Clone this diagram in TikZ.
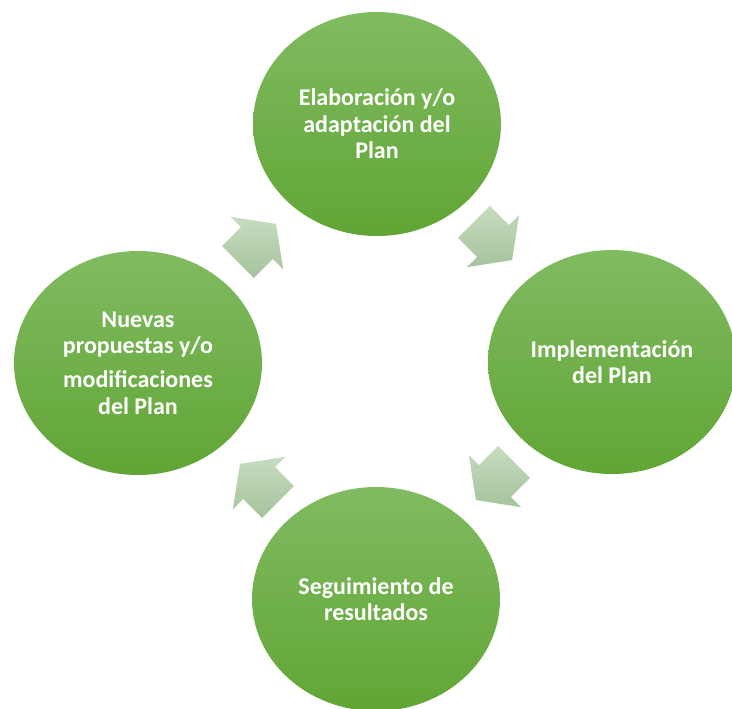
\documentclass[tikz,border=0pt]{standalone}
\usepackage{fontspec}
\setmainfont{Carlito}
\usetikzlibrary{shapes.geometric}
\definecolor{gtop}{RGB}{128,187,97}
\definecolor{gbot}{RGB}{97,165,53}
\definecolor{atop}{RGB}{198,220,190}
\definecolor{abot}{RGB}{166,195,157}
\tikzset{
  stage/.style={ellipse, minimum width=186pt, minimum height=168pt, inner sep=0pt,
    top color=gtop, bottom color=gbot, draw=none, text=white, align=center,
    font=\bfseries\fontsize{18}{19.8}\selectfont},
  blockfill/.style={top color=atop, bottom color=abot, draw=none}
}
\newcommand\blockarrow[3]{%
  \begin{scope}[shift={(#1,#2)}, rotate=#3]
    \path[blockfill] (-27,-22.5) -- (0,-22.5) -- (0,-37) -- (27,0) -- (0,37) -- (0,22.5) -- (-27,22.5) -- cycle;
  \end{scope}}
\begin{document}
\begin{tikzpicture}[x=0.75pt,y=-0.75pt]
  \useasboundingbox (0,0) rectangle (732,708);
  \clip (0,0) rectangle (732,708);
  \node[stage] (plan) at (377,124) {Elaboración y/o\\adaptación del\\Plan};
  \node[stage] (impl) at (612,362) {Implementación\\del Plan};
  \node[stage] (seg) at (376,599) {Seguimiento de\\resultados};
  \node[stage] (nuevas) at (138,363) {Nuevas\\propuestas y/o\\[6pt]modificaciones\\del Plan};
  \blockarrow{257}{243}{45}
  \blockarrow{493}{241}{-45}
  \blockarrow{495}{481}{-135}
  \blockarrow{259}{483}{135}
\end{tikzpicture}
\end{document}
